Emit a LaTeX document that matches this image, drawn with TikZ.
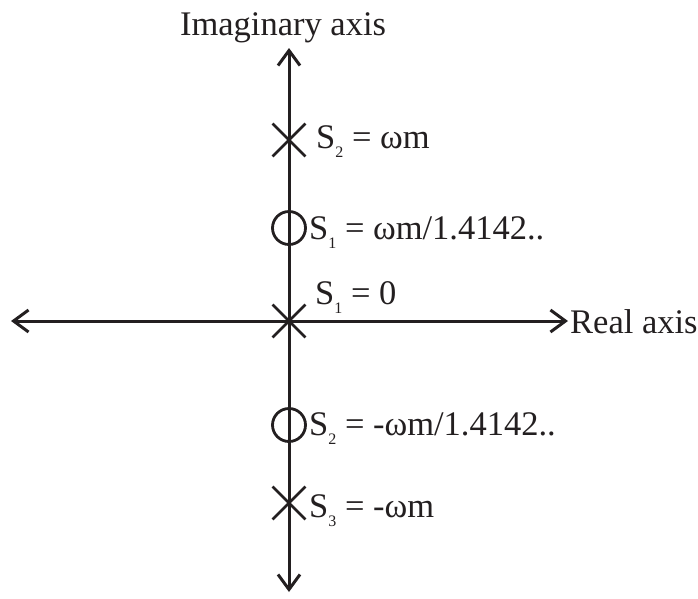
\documentclass[tikz,border=0pt]{standalone}
\usepackage{fontspec}
\setmainfont{Liberation Serif}
\usetikzlibrary{arrows.meta,shapes.misc}
\definecolor{ink}{RGB}{35,31,32}
\newcommand\mysub[1]{\raisebox{-0.28em}{\fontsize{16}{16}\selectfont #1}}
\tikzset{
  axis/.style={draw=ink, line width=3pt, {Straight Barb[length=15pt,width=22pt]}-{Straight Barb[length=15pt,width=22pt]}},
  zero/.style={circle, draw=ink, line width=2.8pt, minimum size=33pt, inner sep=0pt},
  pole/.style={cross out, draw=ink, line width=2.8pt, minimum size=30pt, inner sep=0pt},
  lbl/.style={anchor=base west, inner sep=0pt, text=ink, font=\fontsize{34.5}{40}\selectfont},
}
\begin{document}
\begin{tikzpicture}[x=1pt,y=-1pt]
\useasboundingbox (0,0) rectangle (698,598);
\coordinate (top) at (289,48);
\coordinate (bot) at (289,592);
\coordinate (left) at (11,321);
\coordinate (right) at (568,321);
\draw[axis] (top) -- (bot);
\draw[axis] (left) -- (right);
\node[pole] (p2) at (289,140) {};
\node[zero] (z1) at (289,228) {};
\node[pole] (p1) at (289,321) {};
\node[zero] (z2) at (289,425) {};
\node[pole] (p3) at (289,503) {};
\node[lbl, anchor=base] (im) at (283,35) {Imaginary axis};
\node[lbl] (re) at (570,333) {Real axis};
\node[lbl] (lp2) at (316,148) {S\mysub{2} = ωm};
\node[lbl] (lz1) at (309,239) {S\mysub{1} = ωm/1.4142..};
\node[lbl] (lp1) at (315,304) {S\mysub{1} = 0};
\node[lbl] (lz2) at (309,435) {S\mysub{2} = -ωm/1.4142..};
\node[lbl] (lp3) at (309,517) {S\mysub{3} = -ωm};
\end{tikzpicture}
\end{document}
